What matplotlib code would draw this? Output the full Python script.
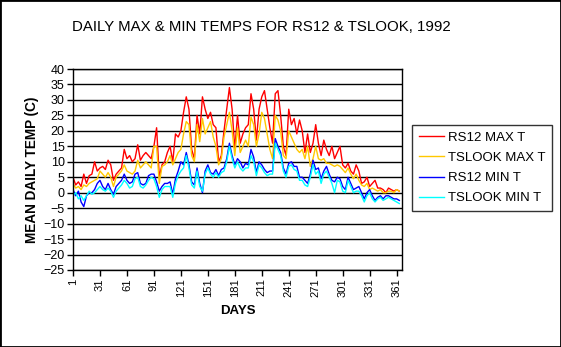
import matplotlib
matplotlib.use("Agg")
import matplotlib.pyplot as plt
from matplotlib.patches import Rectangle

days = list(range(1, 366, 3))

rs12_max = [5, 2.5, 3.5, 2, 6, 3, 5.5, 6, 10, 7,
            8, 8.5, 7.5, 10.5, 9, 4, 6, 7, 8, 14,
            11, 12, 10, 11, 15.5, 10.5, 12, 13, 12, 11,
            15, 21, 5, 9, 10, 13, 15, 10, 19, 18,
            20, 26, 31, 27, 14, 11, 25, 19, 31, 27,
            24, 26, 22, 21, 10, 12, 20, 27, 34, 27,
            14, 25, 16, 19, 21, 22, 32, 27, 17, 27,
            31, 33, 27, 21, 16, 32, 33, 25, 15, 12,
            27, 22, 24, 19, 23.5, 20, 13, 19, 13, 16,
            22, 16, 12, 17, 14, 12, 15, 11, 13, 15,
            9, 8, 9.5, 7, 6, 9, 7, 3, 3.5, 5,
            2, 3, 4, 1.5, 1.5, 1, 0, 1.5, 1, 0.5,
            1, 0.5]

tslook_max = [3, 1.5, 2, 1, 2.5, 2, 3, 3.5, 4, 4.5,
              7, 6, 5, 6.5, 5, 2, 5, 6, 7, 9,
              7, 6.5, 6, 7, 10.5, 8, 9, 10, 9, 8,
              15, 15, 3, 8.5, 9, 10, 12, 9, 11, 13,
              14, 19, 23, 22, 12, 10, 22, 16.5, 24, 19,
              21, 23, 18, 15, 9, 11, 18, 22, 26, 20,
              12, 21, 13, 15, 17, 15, 24.5, 22, 15, 19,
              26, 24, 19, 14, 11, 25, 23.5, 20, 12, 11,
              20, 18, 16, 14, 13, 14, 11, 15, 8.5, 11,
              15, 11, 10.5, 11, 9.5, 9.5, 9, 8.5, 9, 8.5,
              7.5, 6.5, 8, 6, 4.5, 6, 4, 2.5, 2, 3,
              1, 1.5, 1, 0.5, 1, 0, 0, 0.5, 0.5, 0,
              1, 0.5]

rs12_min = [1, -1, 0.5, -3, -4.5, -1, 0, 0, 1, 3,
            4, 2, 1, 3, 1, -0.5, 2, 3, 4, 6,
            4, 3, 3.5, 6, 6.5, 3, 2.5, 3, 5.5, 6,
            6, 3.5, 0.5, 2, 3, 3, 3.5, -0.5, 4.5, 7,
            10, 9, 13, 9, 3.5, 2.5, 8, 3, 0, 7,
            9, 6.5, 6, 7.5, 5.5, 7.5, 8, 11, 16, 12,
            9, 11, 10, 8, 9.5, 9, 14, 11.5, 6.5, 10,
            9, 7.5, 6.5, 7, 7, 17.5, 15, 13, 8, 6,
            9.5, 10, 8.5, 8.5, 5, 5, 4, 3, 6, 10.5,
            7.5, 8, 4.5, 7, 8.5, 6, 4, 3.5, 5, 4.5,
            2, 1, 5, 3, 1, 1.5, 2, 0, -2, 0,
            1, -1, -2.5, -1.5, -1, -2, -1, -1, -1.5, -2,
            -2, -2.5]

tslook_min = [-1, 0, -2, -1, -2.5, -1, 0.5, -0.5, 0, 1,
              2, 1, 0.5, 1.5, 0.5, -1.5, 0.5, 1.5, 2.5, 4,
              3, 1.5, 2, 4.5, 5, 2, 1.5, 2.5, 4, 5,
              4.5, 2, -1.5, 1, 2, 2, 2, -1.5, 3, 5.5,
              7, 8, 12, 8, 2.5, 1.5, 7, 2, 0.5, 6,
              8, 6, 5, 6.5, 5, 6.5, 7, 10, 15, 11,
              8, 10, 8, 7, 8, 8, 12, 10, 5.5, 9,
              8, 6.5, 5.5, 6, 6, 16, 14, 12, 7, 5,
              8.5, 9, 7.5, 7, 4, 4, 2.5, 2, 5, 9,
              6, 7, 3, 6, 7, 5, 3, 0, 4, 3.5,
              0.5, 0, 4, 2, 0, 0.5, 0.5, -1, -3, -1,
              0, -2, -3, -2, -1.5, -2.5, -2, -1.5, -2, -2.5,
              -3, -3.5]

series = [("RS12 MAX T", rs12_max, "#FF0000"),
          ("TSLOOK MAX T", tslook_max, "#FFC800"),
          ("RS12 MIN T", rs12_min, "#0000FF"),
          ("TSLOOK MIN T", tslook_min, "#00FFFF")]

xticks = list(range(1, 366, 30))
yticks = list(range(-25, 41, 5))

plt.rcParams["font.family"] = ["Liberation Sans", "DejaVu Sans"]

fig = plt.figure(figsize=(5.61, 3.47), dpi=100)
ax = fig.add_axes([73 / 561, 1 - 270 / 347, (402 - 73) / 561, (270 - 69) / 347])

for name, vals, col in series:
    ax.plot(days, vals, color=col, lw=1.0, label=name)

ax.set_xlim(1, 367)
ax.set_ylim(-25, 40)
ax.set_yticks(yticks)
ax.set_xticks(xticks)
ax.set_xticklabels([str(t) for t in xticks], rotation=90)
ax.tick_params(axis="both", direction="out", length=4, width=1, color="black", pad=2)
ax.tick_params(axis="x", labelsize=8)
ax.tick_params(axis="y", labelsize=9)
for y in yticks:
    ax.axhline(y, color="black", lw=1, zorder=0.5)
for s in ax.spines.values():
    s.set_color("black")
    s.set_linewidth(1)

ax.set_xlabel("DAYS", fontsize=9.5, fontweight="bold", labelpad=6)
ax.set_ylabel("MEAN DAILY TEMP (C)", fontsize=9.8, fontweight="bold", labelpad=3)
fig.text(261 / 561, 1 - 27 / 347, "DAILY MAX & MIN TEMPS FOR RS12 & TSLOOK, 1992",
         ha="center", va="center", fontsize=10.8)

leg = fig.legend(loc="upper left", bbox_to_anchor=(412 / 561, 1 - 125 / 347),
                 fontsize=9.5, frameon=True, fancybox=False, shadow=False,
                 handlelength=1.9, handletextpad=0.3, labelspacing=0.6,
                 borderpad=0.5, borderaxespad=0)
leg.get_frame().set_edgecolor("black")
leg.get_frame().set_linewidth(1)

fig.patches.append(Rectangle((0, 0), 1, 1, fill=False, ec="black", lw=2,
                             transform=fig.transFigure))

fig.savefig("out.png", dpi=100)
